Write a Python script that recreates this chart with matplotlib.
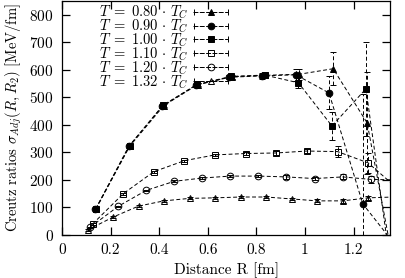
import numpy as np
import matplotlib
matplotlib.use("Agg")
from matplotlib import pyplot as plt
from matplotlib.legend_handler import HandlerErrorbar
from matplotlib.ticker import FuncFormatter

plt.rcParams['font.family'] = 'serif'
plt.rcParams['font.serif'] = ['cmr10']
plt.rcParams['mathtext.fontset'] = 'cm'
plt.rcParams['axes.formatter.use_mathtext'] = True

# T = 0.80 Tc (filled triangles)
x080 = [0.140, 0.279, 0.419, 0.558, 0.698, 0.837, 0.977, 1.116, 1.256, 1.395]
y080 = [95, 323, 470, 546, 575, 580, 584, 604, 407, -250]
e080 = [4, 6, 6, 6, 8, 10, 20, 60, 185, 300]

# T = 0.90 Tc (filled circles)
x090 = [0.1375, 0.275, 0.4125, 0.550, 0.6875, 0.825, 0.9625, 1.099, 1.238, 1.375]
y090 = [93, 322, 468, 544, 573, 578, 582, 516, 113, -40]
e090 = [4, 6, 6, 6, 8, 10, 22, 60, 400, 300]

# T = 1.00 Tc (filled squares)
x100 = [0.139, 0.278, 0.417, 0.556, 0.695, 0.834, 0.973, 1.111, 1.251, 1.390]
y100 = [95, 325, 472, 547, 576, 581, 553, 396, 531, -350]
e100 = [4, 6, 6, 6, 8, 10, 18, 50, 170, 300]

# T = 1.10 Tc (open squares)
x110 = [0.126, 0.252, 0.378, 0.504, 0.630, 0.756, 0.882, 1.008, 1.134, 1.260, 1.386]
y110 = [40, 150, 230, 270, 291, 296, 298, 305, 303, 262, 165]
e110 = [2, 3, 3, 4, 4, 5, 6, 8, 20, 37, 40]

# T = 1.20 Tc (open circles)
x120 = [0.1155, 0.231, 0.3465, 0.462, 0.5775, 0.693, 0.8085, 0.924, 1.0395, 1.155, 1.2705, 1.386]
y120 = [28, 104, 162, 195, 207, 214, 214, 211, 205, 211, 202, 200]
e120 = [2, 3, 3, 4, 4, 5, 5, 6, 7, 9, 12, 20]

# T = 1.32 Tc (open triangles)
x132 = [0.105, 0.210, 0.315, 0.420, 0.525, 0.630, 0.735, 0.840, 0.945, 1.050, 1.155, 1.260, 1.365]
y132 = [18, 65, 105, 124, 133, 135, 138, 138, 131, 124, 124, 135, 138]
e132 = [2, 3, 3, 3, 4, 4, 4, 4, 5, 5, 6, 8, 12]

temps = ['0.80', '0.90', '1.00', '1.10', '1.20', '1.32']
labels = [r'$T\;=\;%s\,\cdot\,T_C$' % t for t in temps]

series = [(x080, y080, e080, '^', 'k'),
          (x090, y090, e090, 'o', 'k'),
          (x100, y100, e100, 's', 'k'),
          (x110, y110, e110, 's', 'none'),
          (x120, y120, e120, 'o', 'none'),
          (x132, y132, e132, '^', 'none')]

fig = plt.figure(figsize=(4.05, 2.78), dpi=100)
ax = fig.add_axes([62/405, 43/278, 328/405, 234/278])

dash = (0, (4, 2.5))
handles = []
for (x, y, e, m, fc) in series:
    ms = 5 if m == 's' else 4.8
    eb = ax.errorbar(x, y, yerr=e, fmt=m, ms=ms, mfc=fc, mec='k', mew=0.7,
                     color='k', lw=0.7, ls=dash, elinewidth=0.7, capsize=2.2,
                     capthick=0.7)
    eb[2][0].set_linestyle(dash)
    # legend sample: gnuplot-like horizontal bar
    h = ax.errorbar([np.nan], [np.nan], xerr=[1], fmt=m, ms=ms, mfc=fc, mec='k',
                    mew=0.7, color='k', lw=0.7, ls=dash, elinewidth=0.7,
                    capsize=2.2, capthick=0.7)
    h[2][0].set_linestyle(dash)
    handles.append(h)

ax.set_xlim(0, 1.35)
ax.set_ylim(0, 850)
ax.set_xticks([0, 0.2, 0.4, 0.6, 0.8, 1.0, 1.2])
ax.set_yticks(range(0, 801, 100))
ax.xaxis.set_major_formatter(FuncFormatter(lambda v, p: '%g' % v))
ax.tick_params(direction='in', length=5.5, width=0.9, top=True, right=True,
               labelsize=11, pad=6)
for s in ax.spines.values():
    s.set_linewidth(0.9)

ax.set_xlabel('Distance R [fm]', fontsize=11, labelpad=4)
ax.set_ylabel(r'Creutz ratios $\sigma_{Adj}(R,R_2)$ [MeV/fm]', fontsize=10.5,
              labelpad=4)

leg = ax.legend(handles, labels, loc='upper left', bbox_to_anchor=(0.085, 1.025),
                frameon=False, markerfirst=False, fontsize=10.5, handlelength=2.4,
                handletextpad=0.35, labelspacing=-0.25, borderaxespad=0.2,
                handler_map={type(handles[0]): HandlerErrorbar(xerr_size=1.15, numpoints=1)})

plt.savefig("out.png", dpi=100)
